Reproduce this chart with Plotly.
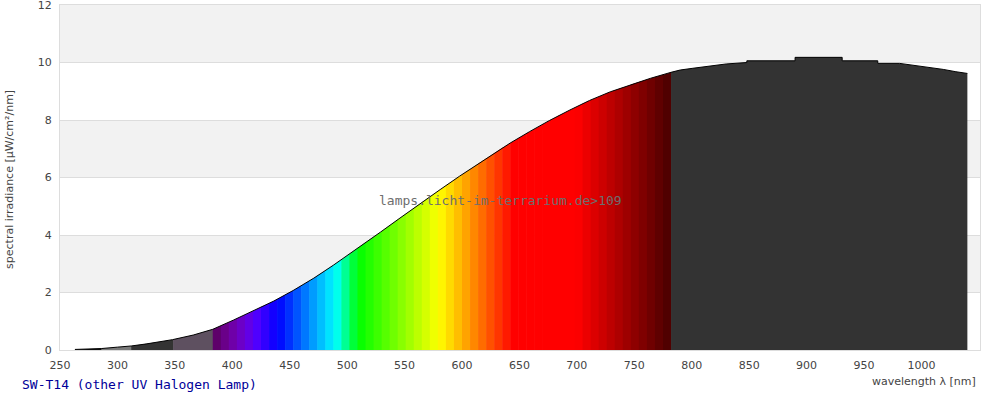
import numpy as np
import plotly.graph_objects as go

# spectrum (nm, uW/cm2/nm); repeated nm = step in the IR part
wavelength = [263, 286, 300, 312, 325, 337, 348, 366, 383,
              401, 418, 436, 453, 471, 488, 505, 511, 529, 546,
              563, 581, 598, 616, 633, 642, 659, 676, 694, 711,
              729, 746, 764, 782, 790, 801, 816, 830, 848, 848,
              890, 890, 931, 931, 962, 962, 981, 993, 1004, 1019,
              1030, 1040]
irradiance = [0.02, 0.05, 0.10, 0.14, 0.21, 0.28, 0.36, 0.52, 0.72,
              1.04, 1.36, 1.70, 2.07, 2.50, 2.95, 3.42, 3.60, 4.10, 4.59,
              5.08, 5.58, 6.05, 6.53, 6.98, 7.20, 7.60, 7.98, 8.35, 8.68,
              8.98, 9.22, 9.45, 9.66, 9.74, 9.80, 9.88, 9.95, 10.00, 10.06,
              10.06, 10.18, 10.18, 10.06, 10.06, 9.97, 9.97, 9.91, 9.83, 9.76,
              9.68, 9.62]

x_ticks = list(range(250, 1001, 50))
y_ticks = [0, 2, 4, 6, 8, 10, 12]

lamp_name = "SW-T14 (other UV Halogen Lamp)"
watermark = "lamps.licht-im-terrarium.de>109"

# colour bands under the curve
UV_BANDS = [(263, 286, "#111111"), (286, 312, "#7a7a7a"),
            (312, 348.5, "#333333"), (348.5, 383, "#5e5060")]
VIS_START, VIS_STEP, VIS_COUNT = 383, 7, 57
IR_BAND = (782, 1040, "#333333")


def spectral_color(w):
    """Rough wavelength -> rgb (Bruton style, no gamma)."""
    if w < 440:
        r, g, b = (440 - w) / 60, 0.0, 1.0
    elif w < 490:
        r, g, b = 0.0, (w - 440) / 50, 1.0
    elif w < 510:
        r, g, b = 0.0, 1.0, (510 - w) / 20
    elif w < 580:
        r, g, b = (w - 510) / 70, 1.0, 0.0
    elif w < 645:
        r, g, b = 1.0, (645 - w) / 65, 0.0
    else:
        r, g, b = 1.0, 0.0, 0.0
    if w < 420:
        f = 0.3 + 0.7 * (w - 380) / 40
    elif w <= 700:
        f = 1.0
    else:
        f = 0.3 + 0.7 * (780 - w) / 80
    return "rgb({},{},{})".format(*[int(round(255 * min(1, max(0, c * f)))) for c in (r, g, b)])


bands = list(UV_BANDS)
for k in range(VIS_COUNT):
    a = VIS_START + k * VIS_STEP
    bands.append((a, a + VIS_STEP, spectral_color(a + VIS_STEP / 2)))
bands.append(IR_BAND)

wl = np.array(wavelength, dtype=float)
ir = np.array(irradiance, dtype=float)

fig = go.Figure()

for i, (a, b, color) in enumerate(bands):
    b_draw = b + 0.5 if i < len(bands) - 1 else b  # small overlap, no seams
    inner = (wl > a) & (wl < b_draw)
    xs = [a] + list(wl[inner]) + [b_draw]
    ys = [np.interp(a, wl, ir)] + list(ir[inner]) + [np.interp(b_draw, wl, ir)]
    fig.add_trace(go.Scatter(x=xs, y=ys, mode="lines", fill="tozeroy",
                             fillcolor=color, line=dict(width=0),
                             hoverinfo="skip", showlegend=False))

fig.add_trace(go.Scatter(x=wavelength, y=irradiance, mode="lines",
                         line=dict(color="black", width=1), showlegend=False))

# alternating horizontal stripes
for y0 in (2, 6, 10):
    fig.add_shape(type="rect", xref="paper", yref="y", x0=0, x1=1, y0=y0, y1=y0 + 2,
                  fillcolor="#f2f2f2", line_width=0, layer="below")

tick_font = dict(family="DejaVu Sans", size=11, color="#444444")
fig.update_layout(
    width=1000, height=400,
    margin=dict(l=60, r=20, t=5, b=50),
    paper_bgcolor="white", plot_bgcolor="white",
    showlegend=False,
    xaxis=dict(range=[250, 1051], tickvals=x_ticks, showgrid=False, zeroline=False,
               showline=True, linecolor="#dddddd", mirror=True, automargin=False,
               ticks="outside", ticklen=5, tickcolor="rgba(0,0,0,0)", tickfont=tick_font),
    yaxis=dict(range=[0, 12.001], tickvals=y_ticks, showgrid=True, gridcolor="#dddddd",
               zeroline=False, showline=True, linecolor="#dddddd", mirror=True,
               automargin=False,
               ticks="outside", ticklen=5, tickcolor="rgba(0,0,0,0)", tickfont=tick_font,
               ticklabeloverflow="allow"),
)

fig.add_annotation(text=watermark, xref="paper", yref="paper", x=0.479, y=0.432,
                   showarrow=False, font=dict(family="DejaVu Sans Mono", size=13, color="#6e6e6e"))
fig.add_annotation(text=lamp_name, xref="paper", yref="paper", x=-0.0435, y=-0.101,
                   xanchor="left", yanchor="middle", showarrow=False,
                   font=dict(family="DejaVu Sans Mono", size=13, color="#000099"))
fig.add_annotation(text="wavelength λ [nm]", xref="paper", yref="paper", x=0.998, y=-0.090,
                   xanchor="right", yanchor="middle", showarrow=False, font=tick_font)
fig.add_annotation(text="spectral irradiance [µW/cm²/nm]", xref="paper", yref="paper",
                   x=-0.0543, y=0.493, textangle=-90, xanchor="center", yanchor="middle",
                   showarrow=False, font=tick_font)

# page body has an 8px default margin; drop it so the chart sits at (0, 0)
fig.write_html("out.html", config={"displayModeBar": False},
               post_script="document.body.style.margin='0';")
